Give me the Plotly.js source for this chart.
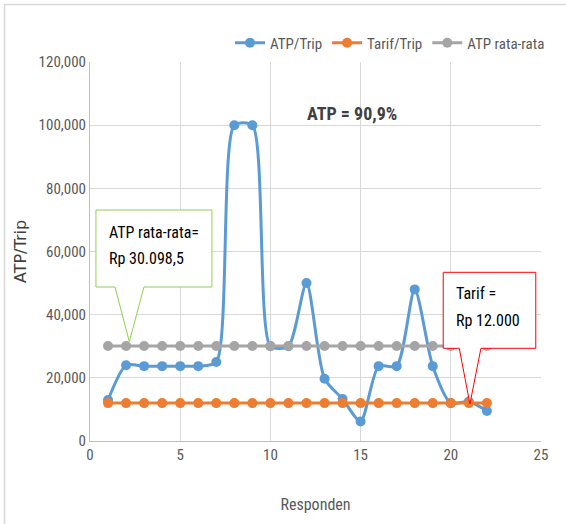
<!DOCTYPE html>
<html>
<head>
<meta charset="utf-8">
<script src="https://cdn.plot.ly/plotly-3.0.1.min.js"></script>
<style>html,body{margin:0;padding:0;background:#fff;}#chart{width:566px;height:524px;}</style>
</head>
<body>
<div id="chart"></div>
<script>
const responden = [1,2,3,4,5,6,7,8,9,10,11,12,13,14,15,16,17,18,19,20,21,22];
const atpTrip = [13000,24000,23700,23700,23700,23700,25000,100000,100000,30000,30000,50000,19700,13300,6200,23700,23700,48000,23700,12000,12500,9500];
const tarifTrip = [12000,12000,12000,12000,12000,12000,12000,12000,12000,12000,12000,12000,12000,12000,12000,12000,12000,12000,12000,12000,12000,12000];
const atpRataRata = [30098.5,30098.5,30098.5,30098.5,30098.5,30098.5,30098.5,30098.5,30098.5,30098.5,30098.5,30098.5,30098.5,30098.5,30098.5,30098.5,30098.5,30098.5,30098.5,30098.5,30098.5,30098.5];
const seriesNames = ["ATP/Trip","Tarif/Trip","ATP rata-rata"];
const colors = ["#5B9BD5","#ED7D31","#A5A5A5"];

const FONT = "'Liberation Sans Narrow', 'Roboto Condensed', Lato, 'Noto Sans', sans-serif";

const traces = [atpTrip, tarifTrip, atpRataRata].map((ys, i) => ({
  x: responden, y: ys, name: seriesNames[i], type: 'scatter', mode: 'lines+markers',
  line: {color: colors[i], width: 3, shape: i === 0 ? 'spline' : 'linear', smoothing: 0.7},
  marker: {color: colors[i], size: 10}
}));

const layout = {
  width: 566, height: 524,
  margin: {l: 90, r: 25, t: 62, b: 83},
  paper_bgcolor: '#ffffff', plot_bgcolor: '#ffffff',
  font: {family: FONT, color: '#595959', size: 15},
  showlegend: true,
  legend: {orientation: 'h', x: 1.02, xanchor: 'right', y: 1.05, yanchor: 'middle',
           font: {family: FONT, size: 15, color: '#595959'}, traceorder: 'normal'},
  xaxis: {range: [0, 25], dtick: 5, tick0: 0, showgrid: true, gridcolor: '#d9d9d9', gridwidth: 1,
          zeroline: false, showline: true, linecolor: '#bfbfbf', linewidth: 1, ticks: '',
          tickfont: {family: FONT, size: 15, color: '#595959'}, automargin: false,
          title: {text: 'Responden', font: {family: FONT, size: 16, color: '#595959'}, standoff: 35}},
  yaxis: {range: [0, 120000], dtick: 20000, tickformat: ',', showgrid: true, gridcolor: '#d9d9d9', gridwidth: 1,
          zeroline: false, showline: true, linecolor: '#bfbfbf', linewidth: 1, ticks: '',
          tickfont: {family: FONT, size: 15, color: '#595959'}, automargin: false,
          title: {text: 'ATP/Trip', font: {family: "'DejaVu Sans', sans-serif", size: 16, color: '#404040'}, standoff: 8}},
  shapes: [
    {type: 'rect', xref: 'paper', yref: 'paper', x0: -0.1896, x1: 1.2, y0: -0.3, y1: 1.1517,
     line: {color: '#d9d9d9', width: 1.5}, fillcolor: 'rgba(0,0,0,0)', layer: 'below'},
    {type: 'path', xref: 'x', yref: 'y',
     path: 'M 0.33 73140 L 6.76 73140 L 6.76 48760 L 2.99 48760 L 2.18 31440 L 1.386 48760 L 0.33 48760 Z',
     line: {color: '#92D050', width: 1}, fillcolor: '#ffffff', layer: 'above'},
    {type: 'path', xref: 'x', yref: 'y',
     path: 'M 19.58 53410 L 24.71 53410 L 24.71 29350 L 21.67 29350 L 21.06 11715 L 20.47 29350 L 19.58 29350 Z',
     line: {color: '#FF0000', width: 1}, fillcolor: '#ffffff', layer: 'above'}
  ],
  annotations: [
    {xref: 'x', yref: 'y', x: 0.95, y: 66170, xanchor: 'left', yanchor: 'middle', showarrow: false,
     text: 'ATP rata-rata=', font: {family: FONT, size: 16, color: '#000000'}},
    {xref: 'x', yref: 'y', x: 0.95, y: 57940, xanchor: 'left', yanchor: 'middle', showarrow: false,
     text: 'Rp 30.098,5', font: {family: FONT, size: 16, color: '#000000'}},
    {xref: 'x', yref: 'y', x: 20.2, y: 46860, xanchor: 'left', yanchor: 'middle', showarrow: false,
     text: 'Tarif =', font: {family: FONT, size: 16, color: '#000000'}},
    {xref: 'x', yref: 'y', x: 20.2, y: 38310, xanchor: 'left', yanchor: 'middle', showarrow: false,
     text: 'Rp 12.000', font: {family: FONT, size: 16, color: '#000000'}},
    {xref: 'x', yref: 'y', x: 14.5, y: 103850, xanchor: 'center', yanchor: 'middle', showarrow: false,
     text: '<b>ATP = 90,9%</b>', font: {family: FONT, size: 18, color: '#404040'}}
  ]
};

Plotly.newPlot('chart', traces, layout, {displayModeBar: false, staticPlot: true});
</script>
</body>
</html>
